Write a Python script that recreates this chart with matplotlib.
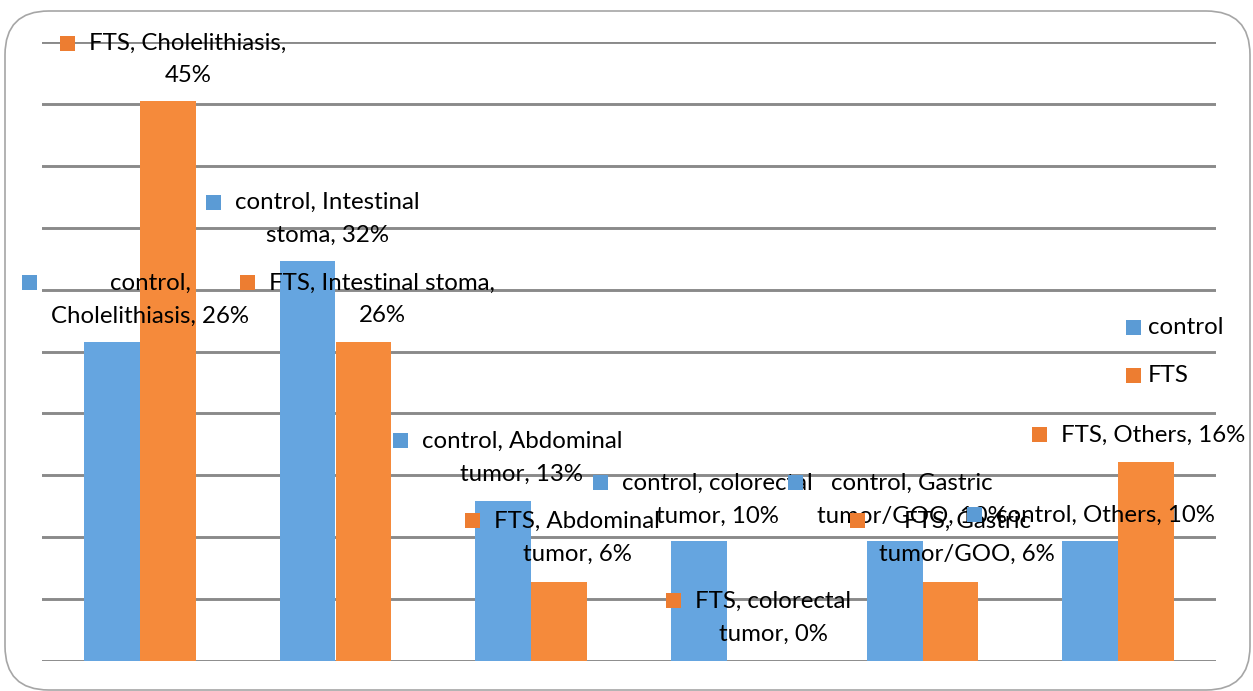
import matplotlib
matplotlib.use("Agg")
import matplotlib.pyplot as plt
import matplotlib.transforms as mtransforms
from matplotlib.patches import Rectangle, FancyBboxPatch
import numpy as np

# ---------------- data ----------------
categories = ["Cholelithiasis", "Intestinal stoma", "Abdominal tumor",
              "colorectal tumor", "Gastric tumor/GOO", "Others"]
series_names = ["control", "FTS"]
control = [25.8, 32.3, 12.9, 9.7, 9.7, 9.7]
fts = [45.2, 25.8, 6.4, 0.0, 6.4, 16.1]

# ---------------- style ----------------
W, H = 1253, 691
bar_colors = ["#65A5E0", "#F58A3B"]
key_colors = ["#5B9BD5", "#ED7D31"]
grid_color = "#8A8A8A"
FONT = "Lato"
FS = 17.3

fig = plt.figure(figsize=(W / 100, H / 100), dpi=100)
fig.patch.set_facecolor("white")

# rounded border of the chart area
border = FancyBboxPatch((5 / W, 1 - 690 / H), 1245 / W, 679 / H,
                        boxstyle="round,pad=0,rounding_size=0.035",
                        transform=fig.transFigure, facecolor="white",
                        edgecolor="#A6A6A6", linewidth=1.2,
                        mutation_aspect=W / H, zorder=-10)
fig.add_artist(border)

ax = fig.add_axes([42 / W, 1 - 661 / H, (1216 - 42) / W, (661 - 42) / H])
ax.set_facecolor("none")
ax.set_zorder(1)
x = np.arange(len(categories))
bw = 0.286
ax.bar(x - bw / 2, control, bw, color=bar_colors[0], zorder=3)
ax.bar(x + bw / 2, fts, bw, color=bar_colors[1], zorder=3)
ax.set_xlim(-0.5, len(categories) - 0.5)
ax.set_ylim(0, 50)
for yv in np.arange(0, 51, 5):
    ax.axhline(yv, color=grid_color, lw=2.1, zorder=1)
for s in ax.spines.values():
    s.set_visible(False)
ax.set_xticks([])
ax.set_yticks([])

# pixel coordinate transform (origin top-left, like the reference image)
pix = mtransforms.Affine2D().scale(1 / W, -1 / H).translate(0, 1) + fig.transFigure

# data labels: (series index, category index, centre x, first line y, words on first line)
label_layout = [
    (1, 0, 188, 43, 2),
    (0, 1, 327, 202, 2),
    (0, 0, 150, 283, 1),
    (1, 1, 382, 283, 3),
    (0, 2, 522, 441, 2),
    (0, 3, 717, 483, 2),
    (1, 2, 577, 521, 2),
    (1, 3, 773, 601, 2),
    (0, 4, 912, 483, 2),
    (1, 4, 967, 521, 2),
    (0, 5, 1105, 515, 9),
    (1, 5, 1153, 435, 9),
]
values = [control, fts]
pitch = 33
label_texts = []
for si, ci, cx, cy, k in label_layout:
    full = f"{series_names[si]}, {categories[ci]}, {values[si][ci]:.0f}%"
    words = full.split(" ")
    lines = [" ".join(words[:k])]
    if k < len(words):
        lines.append(" ".join(words[k:]))
    objs = []
    for li, line in enumerate(lines):
        t = fig.text(cx, cy + li * pitch, line, transform=pix, ha="center",
                     va="center", fontsize=FS, family=FONT, color="black",
                     zorder=5)
        objs.append(t)
    label_texts.append((si, cy, objs))

# legend
legend_items = [(0, 1148, 328), (1, 1148, 376)]
for si, lx, ly in legend_items:
    fig.text(lx, ly, series_names[si], transform=pix, ha="left", va="center",
             fontsize=FS, family=FONT, color="black", zorder=5)
    fig.add_artist(Rectangle((lx - 22, ly - 7.5), 15, 15, transform=pix,
                             facecolor=key_colors[si], edgecolor="none",
                             zorder=6))

fig.canvas.draw()
r = fig.canvas.get_renderer()
for si, cy, objs in label_texts:
    x0 = min(o.get_window_extent(r).x0 for o in objs)
    fig.add_artist(Rectangle((x0 - 29, cy - 7.5), 15, 15, transform=pix,
                             facecolor=key_colors[si], edgecolor="none",
                             zorder=6))

fig.savefig("out.png", dpi=100, facecolor="white")
